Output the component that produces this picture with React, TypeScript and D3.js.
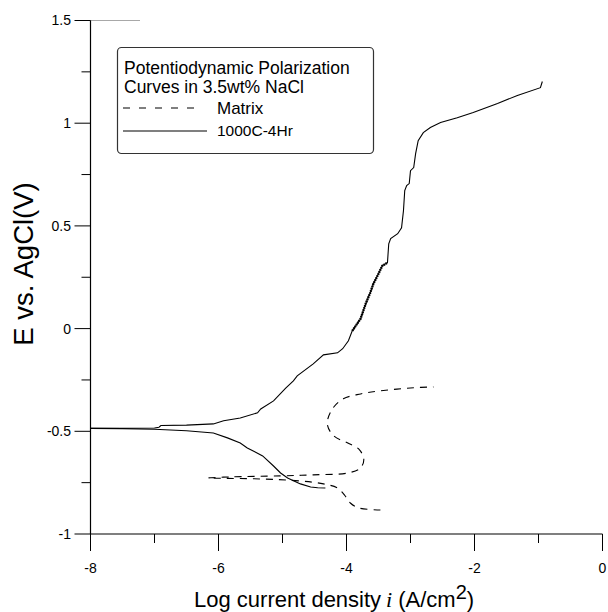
import React from "react";
import * as d3 from "d3";

// ---- Data ----
const xTicksMajor = [-8, -6, -4, -2, 0];
const xTicksMinor = [-7, -5, -3, -1];
const yTicksMajor = [-1, -0.5, 0, 0.5, 1, 1.5];
const yTicksMinor = [-0.75, -0.25, 0.25, 0.75, 1.25];

// Matrix (dashed)
const matrixLogI = [-3.47, -3.81, -3.94, -4.02, -4.14, -4.36, -4.72, -5.34, -6.16, -5.81, -5.03, -4.52, -3.98, -3.78, -3.73, -3.81, -3.98, -4.2, -4.3, -4.22, -4.05, -3.78, -3.47, -2.95, -2.64];
const matrixE = [-0.883, -0.873, -0.849, -0.815, -0.776, -0.756, -0.742, -0.732, -0.727, -0.722, -0.717, -0.712, -0.703, -0.678, -0.634, -0.586, -0.557, -0.522, -0.464, -0.391, -0.342, -0.318, -0.303, -0.288, -0.284];

// 1000C-4Hr cathodic branch (solid)
const alloyCathLogI = [-8.0, -7.5, -7.0, -6.5, -6.08, -5.86, -5.66, -5.55, -5.31, -5.14, -5.03, -4.92, -4.72, -4.56, -4.45, -4.33];
const alloyCathE = [-0.486, -0.487, -0.49, -0.497, -0.508, -0.532, -0.557, -0.581, -0.62, -0.669, -0.703, -0.727, -0.756, -0.771, -0.775, -0.776];

// 1000C-4Hr anodic branch (solid)
const alloyAnodLogI = [-8.0, -7.5, -7.0, -6.93, -6.9, -6.5, -6.08, -5.92, -5.66, -5.39, -5.34, -5.14, -4.95, -4.83, -4.77, -4.52, -4.36, -4.14, -4.06, -3.97, -3.91, -3.78, -3.7, -3.63, -3.58, -3.5, -3.44, -3.36, -3.34, -3.31, -3.2, -3.14, -3.11, -3.09, -3.06, -3.02, -3.0, -2.95, -2.92, -2.88, -2.8, -2.69, -2.53, -2.27, -2.02, -1.64, -1.33, -0.97, -0.94];
const alloyAnodE = [-0.486, -0.485, -0.484, -0.48, -0.472, -0.47, -0.464, -0.449, -0.435, -0.41, -0.391, -0.352, -0.29, -0.254, -0.23, -0.172, -0.128, -0.118, -0.098, -0.059, -0.011, 0.048, 0.121, 0.174, 0.218, 0.267, 0.306, 0.321, 0.413, 0.438, 0.462, 0.491, 0.574, 0.672, 0.696, 0.706, 0.769, 0.784, 0.852, 0.915, 0.954, 0.979, 1.003, 1.027, 1.052, 1.096, 1.135, 1.173, 1.203];

// noisy (thick-looking) part of the anodic branch, as E range
const noisyRange = [-0.02, 0.33];

const legendTitle = ["Potentiodynamic Polarization", "Curves in 3.5wt% NaCl"];
const seriesNames = ["Matrix", "1000C-4Hr"];

const W = 608;
const H = 612;
const FONT = "Liberation Sans, Arial, Helvetica, sans-serif";

export default function App() {
  const x = d3.scaleLinear().domain([-8, 0]).range([90.5, 602.5]);
  const y = d3.scaleLinear().domain([-1, 1.5]).range([534, 20.5]);

  const zip = (a: number[], b: number[]) => a.map((v, i) => [v, b[i]] as [number, number]);
  const line = d3
    .line<[number, number]>()
    .x((d) => x(d[0]))
    .y((d) => y(d[1]));
  const smooth = d3
    .line<[number, number]>()
    .x((d) => x(d[0]))
    .y((d) => y(d[1]))
    .curve(d3.curveCatmullRom.alpha(0.5));

  const y0 = y(-1);
  const x0 = x(-8);
  const anod = zip(alloyAnodLogI, alloyAnodE);
  const noisy = anod.filter((d) => d[1] >= noisyRange[0] && d[1] <= noisyRange[1]);

  return (
    <svg
      width={W}
      height={H}
      viewBox={`0 0 ${W} ${H}`}
      style={{ position: "absolute", left: 0, top: 0, background: "#fff" }}
      fontFamily={FONT}
    >
      <rect x={0} y={0} width={W} height={H} fill="#fff" />
      {/* top light line */}
      <line x1={75} x2={140} y1={y(1.5)} y2={y(1.5)} stroke="#a8a8a8" strokeWidth={1} />
      {/* axes */}
      <line x1={x0} x2={x0} y1={y(1.5)} y2={y0} stroke="#000" strokeWidth={1.2} />
      <line x1={x0} x2={x(0)} y1={y0} y2={y0} stroke="#000" strokeWidth={1.2} />
      {yTicksMajor.map((t) => (
        <g key={"ym" + t}>
          <line x1={x0 - 16} x2={x0} y1={y(t)} y2={y(t)} stroke="#000" strokeWidth={1} />
          <text x={71} y={y(t)} dy="0.35em" textAnchor="end" fontSize={14} fill="#000">
            {t}
          </text>
        </g>
      ))}
      {yTicksMinor.map((t) => (
        <line key={"yn" + t} x1={x0 - 9} x2={x0} y1={y(t)} y2={y(t)} stroke="#000" strokeWidth={1} />
      ))}
      {xTicksMajor.map((t) => (
        <g key={"xm" + t}>
          <line x1={x(t)} x2={x(t)} y1={y0} y2={y0 + 17} stroke="#000" strokeWidth={1} />
          <text x={x(t)} y={573} textAnchor="middle" fontSize={14} fill="#000">
            {t}
          </text>
        </g>
      ))}
      {xTicksMinor.map((t) => (
        <line key={"xn" + t} x1={x(t)} x2={x(t)} y1={y0} y2={y0 + 9} stroke="#000" strokeWidth={1} />
      ))}

      {/* axis titles */}
      <text x={194} y={607} fontSize={22} fill="#000">
        Log current density
        <tspan fontFamily="Liberation Serif, Times New Roman, serif" fontStyle="italic" dx={5}>
          i
        </tspan>
        <tspan dx={6}>(A/cm</tspan>
        <tspan dy={-8} fontSize={20}>2</tspan>
        <tspan dy={8}>)</tspan>
      </text>
      <text
        transform={`translate(33,264) rotate(-90)`}
        textAnchor="middle"
        fontSize={27.5}
        fill="#000"
      >
        E vs. AgCl(V)
      </text>

      {/* curves */}
      <path
        d={smooth(zip(matrixLogI, matrixE)) || ""}
        fill="none"
        stroke="#000"
        strokeWidth={1.1}
        strokeDasharray="7,6"
      />
      <path d={line(zip(alloyCathLogI, alloyCathE)) || ""} fill="none" stroke="#000" strokeWidth={1.1} />
      <path d={line(anod) || ""} fill="none" stroke="#000" strokeWidth={1.1} />
      <path d={line(noisy) || ""} fill="none" stroke="#000" strokeWidth={2.4} strokeDasharray="1.5,0.8" />

      {/* legend */}
      <rect x={117.5} y={47.5} width={256} height={106} rx={4} fill="#fff" stroke="#333" strokeWidth={1.2} />
      <text x={124} y={74} fontSize={17.5} fill="#000">
        {legendTitle[0]}
      </text>
      <text x={124} y={92.5} fontSize={17.5} fill="#000">
        {legendTitle[1]}
      </text>
      <line x1={123} x2={201} y1={108} y2={108} stroke="#000" strokeWidth={1.1} strokeDasharray="7,9" />
      <text x={217} y={114} fontSize={17} fill="#000">
        {seriesNames[0]}
      </text>
      <line x1={123} x2={207} y1={131} y2={131} stroke="#000" strokeWidth={1.1} />
      <text x={217} y={136} fontSize={15.5} fill="#000">
        {seriesNames[1]}
      </text>
    </svg>
  );
}
